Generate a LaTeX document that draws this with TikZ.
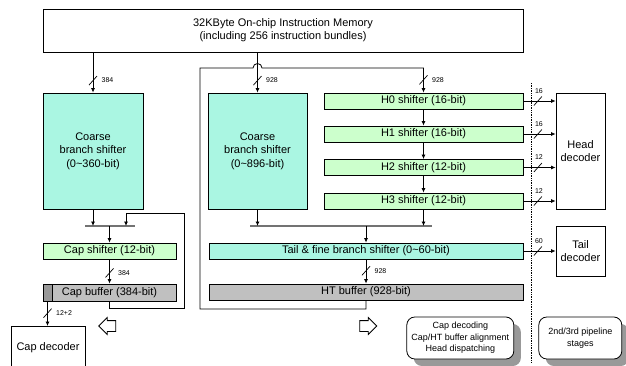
\documentclass[tikz,border=0pt]{standalone}
\usepackage{fontspec}
\setmainfont{Liberation Sans}
\usetikzlibrary{calc,shapes,shapes.arrows,shadows,arrows.meta,positioning}

\definecolor{coarsecol}{RGB}{170,246,226}
\definecolor{shiftcol}{RGB}{204,255,204}
\definecolor{bufcol}{RGB}{192,192,192}

% bus width marks: slash across the wire and its width
\newcommand{\busmark}[2]{%
 \draw[line width=.7pt] (#1) ++(-4,4.5) -- ++(8,-9);
 \node[buslbl, anchor=west] (#1-lbl) at ($(#1)+(8.5,0)$) {#2};}
\newcommand{\busmarkh}[2]{%
 \draw[line width=.7pt] (#1) ++(-4,4.5) -- ++(8,-9);
 \node[buslbl] (#1-lbl) at ($(#1)+(1,-10)$) {#2};}

\begin{document}
\begin{tikzpicture}[x=1pt, y=-1pt,
 box/.style = {draw, line width=.8pt, inner sep=0pt, align=center, font=\fontsize{11}{13.3}\selectfont},
 coarse/.style = {box, fill=coarsecol},
 shifter/.style = {box, fill=shiftcol},
 buffer/.style = {box, fill=bufcol},
 arr/.style = {line width=.8pt, arrows={-Latex[length=4.5pt,width=4pt]}},
 mergebar/.style = {line width=1.8pt, draw=black!55},
 buslbl/.style = {inner sep=0pt, font=\fontsize{7}{8}\selectfont},
 note/.style = {draw, line width=.8pt, rounded corners=8pt, fill=white, align=center,
   font=\fontsize{9}{11.5}\selectfont,
   drop shadow={shadow xshift=7pt, shadow yshift=-7pt, fill=black!40, opacity=1}},
 hollow/.style = {single arrow, draw, line width=.8pt, fill=white, inner xsep=0pt, inner ysep=5pt,
   minimum height=17pt, single arrow head extend=3pt}]
 \useasboundingbox (0,0) rectangle (626,366);
 \clip (0,0) rectangle (626,366);

 \node[box, minimum width=480, minimum height=43] (mem) at (283,30.5)
   {32KByte On-chip Instruction Memory\\(including 256 instruction bundles)};

 % cap path
 \node[coarse, minimum width=100, minimum height=116] (coarseL) at (93,151)
   {Coarse\\branch shifter\\(0\textasciitilde360-bit)};
 \node[shifter, minimum width=133, minimum height=16] (capsh) at (109.5,251) {Cap shifter (12-bit)};
 \node[buffer, minimum width=133, minimum height=17] (capbuf) at (109.5,292.5) {Cap buffer (384-bit)};
 \node[buffer, fill=black!40, minimum width=9, minimum height=17, anchor=north west] (captag) at (capbuf.north west) {};
 \node[box, minimum width=74, minimum height=42, anchor=north] (capdec) at (48,326) {Cap decoder};
 \coordinate (barL-w) at (85,226);
 \coordinate (barL-e) at (135,226);
 \coordinate (loopL-b) at (184,308);
 \coordinate (loopL-t) at (126,213);
 \draw[mergebar] (barL-w) -- (barL-e);

 \draw[arr] (mem.south -| coarseL.north) -- coordinate[pos=.7] (busL) (coarseL.north);
 \busmark{busL}{384}
 \draw[arr] (coarseL.south) -- (coarseL.south |- barL-w);
 \draw[arr] (capbuf.south) |- (loopL-b) |- (loopL-t) -- (loopL-t |- barL-w);
 \draw[arr] (barL-w -| capsh.north) -- (capsh.north);
 \draw[arr] (capsh.south) -- coordinate[pos=.56] (busC) (capbuf.north);
 \busmark{busC}{384}
 \draw[arr] (captag.south) -- coordinate[pos=.48] (busD) (captag.south |- capdec.north);
 \busmark{busD}{12+2}

 \node[hollow, shape border rotate=180] (backL) at (110,326) {};

 % head / tail path
 \node[coarse, minimum width=99, minimum height=116] (coarseR) at (257.5,151)
   {Coarse\\branch shifter\\(0\textasciitilde896-bit)};
 \foreach \i/\w/\ypos in {0/16/101, 1/16/134, 2/12/167.5, 3/12/201}
   \node[shifter, minimum width=199, minimum height=16] (h\i) at (423.5,\ypos) {H\i{} shifter (\w-bit)};
 \node[coarse, minimum width=314, minimum height=16] (tail) at (366,251)
   {Tail \& fine branch shifter (0\textasciitilde60-bit)};
 \node[buffer, minimum width=314, minimum height=16] (htbuf) at (366,292) {HT buffer (928-bit)};
 \node[box, minimum width=49, minimum height=116] (headdec) at (580.5,151) {Head\\decoder};
 \node[box, minimum width=49, minimum height=50] (taildec) at (580.5,251) {Tail\\decoder};
 \coordinate (barR-w) at (250,226);
 \coordinate (barR-e) at (432,226);
 \coordinate (loopR-b) at (200,309);
 \coordinate (loopR-t) at (200,68);
 \draw[mergebar] (barR-w) -- (barR-e);

 \draw[arr] (mem.south -| coarseR.north) -- coordinate[pos=.7] (busR) (coarseR.north);
 \busmark{busR}{928}
 \draw[arr] (htbuf.south) |- (loopR-b) -- (loopR-t)
   -- ($(loopR-t -| coarseR.north)+(-4.5,0)$) arc[start angle=180, end angle=0, radius=4.5pt]
   -- (loopR-t -| h0.north) -- coordinate[pos=.48] (busH) (h0.north);
 \busmark{busH}{928}
 \foreach \i [count=\j] in {0,1,2}
   \draw[arr] (h\i.south) -- (h\j.north);
 \draw[arr] (coarseR.south) -- (coarseR.south |- barR-w);
 \draw[arr] (h3.south) -- (h3.south |- barR-w);
 \draw[arr] (barR-w -| tail.north) -- (tail.north);
 \draw[arr] (tail.south) -- coordinate[pos=.47] (busT) (htbuf.north);
 \busmark{busT}{928}

 % to the decoders
 \coordinate (div-t) at (531,83);
 \coordinate (div-b) at (531,362);
 \draw[densely dotted, line width=.7pt] (div-t) -- (div-b);
 \foreach \i/\w in {0/16, 1/16, 2/12, 3/12}{
   \draw[arr] (h\i.east) -- coordinate[pos=.45] (out\i) (h\i.east -| headdec.west);
   \busmarkh{out\i}{\w}
 }
 \draw[arr] (tail.east) -- coordinate[pos=.45] (outT) (taildec.west);
 \busmarkh{outT}{60}

 \node[hollow] (fwdR) at (365.5,326) {};
 \node[note, minimum width=107, minimum height=42] (stage1) at (460.3,338)
   {Cap decoding\\Cap/HT buffer alignment\\Head dispatching};
 \node[note, minimum width=83, minimum height=42] (stage2) at (580.3,338)
   {2nd/3rd pipeline\\stages};
\end{tikzpicture}
\end{document}
